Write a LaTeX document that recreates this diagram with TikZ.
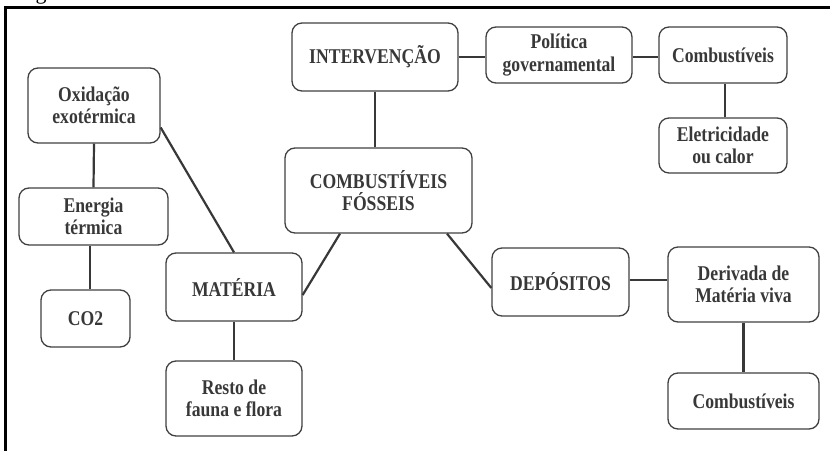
\documentclass[tikz,border=0pt]{standalone}
\usepackage{fontspec}
\setmainfont{Liberation Serif}
\newfontfamily\boxfont{Liberation Serif}[FakeStretch=0.84]
\definecolor{ink}{HTML}{383838}
\definecolor{edge}{HTML}{404040}
\begin{document}
\begin{tikzpicture}[x=1pt,y=-1pt,
  box/.style={draw=edge, line width=1.3pt, rounded corners=10pt, align=center,
    text=ink, inner sep=0pt, font=\boxfont\bfseries\fontsize{21}{22.5}\selectfont},
  link/.style={draw=ink, line width=2.2pt}]
\useasboundingbox (0,0) rectangle (830,450);

% page frame and the descender of the caption above it
\draw[line width=3pt, black] (5,470) |- (850,7);
\node[anchor=base, inner sep=0pt, font=\fontsize{22}{24}\selectfont] (capg) at (41,-1) {g};

% left branch
\node[box, minimum width=132pt, minimum height=75pt] (oxi) at (94,105.5) {Oxidação\\exotérmica};
\node[box, minimum width=149pt, minimum height=57pt] (ene) at (93.5,216.5) {Energia\\térmica};
\node[box, minimum width=89pt, minimum height=57pt] (co2) at (85.5,318.5) {CO2};
\node[box, minimum width=136pt, minimum height=68pt] (mat) at (234,287) {MATÉRIA};
\node[box, minimum width=136pt, minimum height=75pt] (resto) at (234,398.5) {Resto de\\fauna e flora};

% centre and top branch
\node[box, minimum width=187pt, minimum height=85pt] (fos) at (378.5,190.5) {COMBUSTÍVEIS\\FÓSSEIS};
\node[box, minimum width=166pt, minimum height=68pt] (interv) at (375,57) {INTERVENÇÃO};
\node[box, minimum width=146pt, minimum height=56pt] (pol) at (559,55) {Política\\governamental};
\node[box, minimum width=128pt, minimum height=56pt] (comb1) at (723,55) {Combustíveis};
\node[box, minimum width=128pt, minimum height=55pt] (elet) at (723,145.5) {Eletricidade\\ou calor};

% right branch
\node[box, minimum width=137pt, minimum height=68pt] (dep) at (560.5,282) {DEPÓSITOS};
\node[box, minimum width=151pt, minimum height=75pt] (deriv) at (743.5,284.5) {Derivada de\\Matéria viva};
\node[box, minimum width=151pt, minimum height=56pt] (comb2) at (743.5,401) {Combustíveis};

% connectors
\draw[link] (oxi.south) -- (ene.north);
\draw[link] ([xshift=-3.5pt]ene.south) -- ([xshift=-3.5pt]ene.south |- co2.north);
\draw[link] ([yshift=-22pt]oxi.east) -- (mat.north);
\draw[link] (mat.south) -- (resto.north);
\draw[link] ([yshift=-8pt]mat.east) -- ([xshift=-38.5pt]fos.south);
\draw[link] (interv.south) -- (interv.south |- fos.north);
\draw[link] (interv.east) -- (interv.east -| pol.west);
\draw[link] ([yshift=-2pt]pol.east) -- ([yshift=-2pt]comb1.west);
\draw[link] ([xshift=2pt]comb1.south) -- ([xshift=2pt]elet.north);
\draw[link] ([xshift=68.5pt]fos.south) -- ([yshift=-6pt]dep.west);
\draw[link] ([yshift=2pt]dep.east) -- ([yshift=2pt]dep.east -| deriv.west);
\draw[link] (deriv.south) -- (comb2.north);
\end{tikzpicture}
\end{document}
